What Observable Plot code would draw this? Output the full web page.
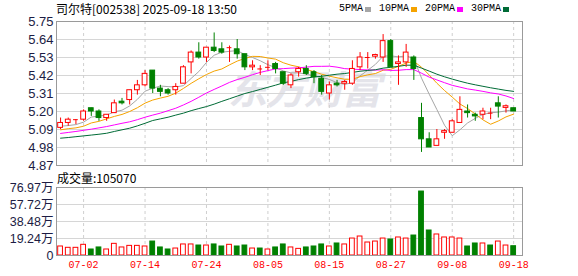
<!DOCTYPE html>
<html><head><meta charset="utf-8">
<script src="https://cdn.jsdelivr.net/npm/d3@7"></script>
<script src="https://cdn.jsdelivr.net/npm/@observablehq/plot@0.6"></script>
<style>
body{margin:0;background:#fff;}
#c{position:relative;width:578px;height:276px;overflow:hidden;font-family:"Noto Sans CJK SC",sans-serif;color:#000;}
#c svg{position:absolute;left:0;background:transparent;}
.t{position:absolute;white-space:nowrap;}
#wm{left:228px;top:64px;font-size:39px;line-height:46px;font-weight:bold;font-style:italic;color:#e4e4ea;letter-spacing:-1px;}
#title{left:56px;top:0px;font-size:12px;line-height:17px;}
#volt{left:57px;top:169px;font-size:12px;line-height:17px;}
#legend{left:339px;top:1px;display:flex;align-items:center;font-family:"Liberation Mono",monospace;font-size:10px;line-height:16px;}
#legend .sq{display:inline-block;width:6px;height:5px;margin-left:2px;margin-right:8px;}
</style></head>
<body><div id="c">
<div class="t" id="wm">东方财富</div>
<div class="t" id="title">司尔特[002538] 2025-09-18 13:50</div>
<div class="t" id="legend"></div>
<div class="t" id="volt">成交量:105070</div>
</div>
<script>
const dates = ["06-27","06-30","07-01","07-02","07-03","07-04","07-07","07-08","07-09","07-10",
"07-11","07-14","07-15","07-16","07-17","07-18","07-21","07-22","07-23","07-24",
"07-25","07-28","07-29","07-30","07-31","08-01","08-04","08-05","08-06","08-07",
"08-08","08-11","08-12","08-13","08-14","08-15","08-18","08-19","08-20","08-21",
"08-22","08-25","08-26","08-27","08-28","08-29","09-01","09-02","09-03","09-04",
"09-05","09-08","09-09","09-10","09-11","09-12","09-15","09-16","09-17","09-18"];

const open = [5.10,5.13,5.15,5.15,5.22,5.20,5.16,5.19,5.26,5.27,
5.33,5.36,5.45,5.34,5.33,5.33,5.37,5.50,5.56,5.53,
5.59,5.58,5.59,5.58,5.55,5.47,5.46,5.47,5.49,5.44,
5.36,5.44,5.46,5.44,5.40,5.31,5.37,5.37,5.37,5.47,
5.53,5.535,5.53,5.63,5.49,5.50,5.53,5.16,5.03,4.99,
5.07,5.07,5.13,5.20,5.18,5.18,5.19,5.25,5.222,5.22];
const high = [5.16,5.16,5.15,5.21,5.22,5.21,5.18,5.27,5.28,5.33,
5.39,5.45,5.45,5.36,5.34,5.37,5.48,5.57,5.62,5.59,
5.68,5.62,5.60,5.64,5.55,5.51,5.48,5.51,5.50,5.44,
5.43,5.47,5.48,5.45,5.42,5.38,5.39,5.39,5.51,5.56,
5.56,5.55,5.67,5.64,5.54,5.61,5.54,5.25,5.07,5.09,
5.09,5.15,5.29,5.24,5.19,5.22,5.22,5.29,5.24,5.22];
const low = [5.09,5.11,5.12,5.14,5.17,5.14,5.14,5.19,5.24,5.24,
5.30,5.35,5.31,5.29,5.30,5.30,5.37,5.43,5.52,5.50,
5.56,5.55,5.50,5.52,5.45,5.45,5.42,5.45,5.43,5.36,
5.34,5.41,5.42,5.37,5.30,5.27,5.35,5.33,5.36,5.45,
5.46,5.52,5.50,5.47,5.36,5.47,5.39,4.95,4.98,4.99,
5.03,5.07,5.13,5.16,5.14,5.15,5.15,5.16,5.19,5.20];
const close = [5.13,5.15,5.15,5.20,5.20,5.16,5.18,5.25,5.25,5.33,
5.36,5.43,5.34,5.32,5.31,5.35,5.47,5.56,5.53,5.59,
5.57,5.56,5.59,5.55,5.47,5.48,5.46,5.47,5.46,5.37,
5.42,5.46,5.43,5.41,5.32,5.36,5.36,5.38,5.46,5.53,
5.53,5.545,5.63,5.47,5.50,5.56,5.46,5.03,4.98,5.03,
5.08,5.14,5.21,5.19,5.17,5.20,5.19,5.23,5.232,5.20];

// volume in 万 (10k shares)
const volume = [10.2,8.7,8.7,12.1,6.8,9.1,6.8,13.2,9.1,10.9,
10.9,10.2,15.8,9.1,6.8,7.9,12.5,12.5,11.3,11.3,
12.5,10.2,12.1,10.2,11.3,7.9,7.9,6.8,9.1,12.5,
9.1,7.5,9.1,10.2,12.5,10.2,13.6,12.5,19.2,21.5,
14.7,15.8,19.2,18.1,20.4,19.2,22.6,72.4,28.3,23.8,
20.4,20.4,19.2,10.2,13.6,13.6,11.3,15.8,11.3,10.51];
const volDir = ["up","up","up","up","down","down","up","up","up","up",
"up","up","down","down","down","up","up","up","down","up",
"down","down","up","down","down","up","down","up","down","down",
"up","up","down","down","down","up","down","up","up","up",
"up","up","up","down","up","up","down","down","down","up",
"up","up","up","down","down","up","down","up","up","down"];

const ma5 = [5.11,5.114,5.12,5.135,5.166,5.172,5.178,5.198,5.208,5.234,
5.274,5.324,5.342,5.356,5.352,5.35,5.358,5.402,5.444,5.50,
5.544,5.562,5.568,5.572,5.548,5.53,5.51,5.486,5.468,5.448,
5.436,5.436,5.428,5.418,5.408,5.396,5.376,5.366,5.376,5.418,
5.452,5.488,5.538,5.54,5.534,5.54,5.524,5.404,5.306,5.212,
5.116,5.052,5.088,5.13,5.158,5.182,5.192,5.196,5.204,5.21];
const ma10 = [5.088,5.095,5.10,5.11,5.13,5.14,5.155,5.17,5.182,5.20,
5.223,5.251,5.27,5.282,5.293,5.312,5.341,5.372,5.40,5.426,
5.447,5.46,5.485,5.508,5.524,5.537,5.536,5.527,5.52,5.498,
5.483,5.473,5.457,5.443,5.428,5.416,5.406,5.397,5.397,5.413,
5.424,5.432,5.452,5.458,5.476,5.496,5.506,5.471,5.423,5.373,
5.328,5.288,5.246,5.218,5.185,5.149,5.122,5.142,5.167,5.184];
const ma20 = [5.066,5.072,5.078,5.085,5.092,5.10,5.108,5.118,5.128,5.137,
5.15,5.165,5.178,5.19,5.205,5.22,5.24,5.262,5.287,5.313,
5.335,5.356,5.378,5.395,5.409,5.425,5.439,5.45,5.46,5.462,
5.465,5.467,5.471,5.476,5.476,5.477,5.471,5.462,5.459,5.456,
5.454,5.453,5.455,5.451,5.452,5.456,5.456,5.434,5.41,5.393,
5.376,5.36,5.349,5.338,5.331,5.323,5.314,5.307,5.295,5.279];
const ma30 = [5.037,5.041,5.046,5.051,5.056,5.061,5.067,5.078,5.088,5.098,
5.112,5.128,5.145,5.155,5.165,5.178,5.19,5.205,5.218,5.23,
5.245,5.262,5.278,5.294,5.31,5.322,5.335,5.348,5.361,5.375,
5.384,5.395,5.404,5.411,5.415,5.422,5.428,5.432,5.439,5.446,
5.451,5.455,5.465,5.47,5.476,5.483,5.483,5.465,5.447,5.428,
5.412,5.398,5.385,5.373,5.363,5.354,5.345,5.337,5.329,5.323];

const priceTicks = [4.87,4.98,5.09,5.20,5.31,5.42,5.53,5.64,5.75];
const volTicks = [0,19.24,38.48,57.72,76.97];
const dateTickIdx = [3,11,19,27,35,43,51,59];
const maNames = ["5PMA","10PMA","20PMA","30PMA"];
const maColors = ["#a6a6a6","#f5a300","#ff00ff","#006b36"];

const RED = "#ff0000", GREEN = "#008000";
const HALF = 0.31;

const candles = dates.map((d, i) => ({i, date: d, open: open[i], high: high[i], low: low[i], close: close[i],
  up: close[i] >= open[i]}));
const vols = dates.map((d, i) => ({i, v: volume[i], up: volDir[i] === "up"}));
const maSeries = [ma5, ma10, ma20, ma30].map((vals, k) => ({name: maNames[k], color: maColors[k], vals}));

const xScale = {type: "linear", domain: [-0.53, 60.15], axis: null, label: null};
const gridH = "#d6d6d6", gridV = "#cfcfcf", frameC = "#9a9a9a";

const price = Plot.plot({
  width: 578, height: 170, marginLeft: 56, marginRight: 56, marginTop: 21, marginBottom: 5,
  style: {background: "transparent", overflow: "visible"},
  x: xScale,
  y: {domain: [4.87, 5.75], axis: null, label: null},
  color: {type: "identity"},
  marks: [
    Plot.ruleY(priceTicks, {stroke: gridH}),
    Plot.ruleX(dateTickIdx, {stroke: gridV, strokeDasharray: "3,3"}),
    Plot.axisY(priceTicks, {tickSize: 0, tickPadding: 3, tickFormat: d => d.toFixed(2), fontSize: 13, label: null,
      fill: "#1c1c44", fontFamily: "Liberation Sans, Arial, sans-serif"}),
    ...maSeries.map(s => Plot.line(s.vals, {x: (d, i) => i, y: d => d, stroke: s.color, strokeWidth: 1})),
    Plot.ruleX(candles, {x: "i", y1: "low", y2: "high", stroke: d => d.up ? RED : GREEN}),
    Plot.rect(candles.filter(d => d.open !== d.close), {x1: d => d.i - HALF, x2: d => d.i + HALF,
      y1: "open", y2: "close", fill: d => d.up ? "#ffffff" : GREEN, stroke: d => d.up ? RED : GREEN}),
    Plot.ruleY(candles.filter(d => d.open === d.close), {y: "close", x1: d => d.i - HALF, x2: d => d.i + HALF, stroke: RED}),
    Plot.frame({stroke: frameC})
  ]
});
price.style.top = "0px";

const volChart = Plot.plot({
  width: 578, height: 111, marginLeft: 56, marginRight: 56, marginTop: 22, marginBottom: 21,
  style: {background: "transparent", overflow: "visible"},
  x: xScale,
  y: {domain: [0, 76.97], axis: null, label: null},
  color: {type: "identity"},
  marks: [
    Plot.ruleY(volTicks, {stroke: gridH}),
    Plot.ruleX(dateTickIdx, {stroke: gridV, strokeDasharray: "3,3"}),
    Plot.axisY(volTicks, {tickSize: 0, tickPadding: 3, tickFormat: v => v === 0 ? "0" : v.toFixed(2) + "万", label: null,
      fontSize: 12.5, fill: "#1c1c44", fontFamily: "Liberation Sans, Noto Sans CJK SC, sans-serif"}),
    Plot.axisX(dateTickIdx, {tickSize: 0, tickPadding: 5, tickFormat: i => dates[i], fontSize: 10, label: null,
      fill: RED, fontFamily: "Liberation Mono, monospace"}),
    Plot.rect(vols, {x1: d => d.i - HALF, x2: d => d.i + HALF, y1: 0, y2: "v",
      fill: d => d.up ? "#ffffff" : GREEN, stroke: d => d.up ? RED : GREEN}),
    Plot.frame({stroke: frameC})
  ]
});
volChart.style.top = "165px";

const c = document.getElementById("c");
c.appendChild(price);
c.appendChild(volChart);

const legend = document.getElementById("legend");
maSeries.forEach(s => {
  const t = document.createElement("span"); t.textContent = s.name; legend.appendChild(t);
  const q = document.createElement("span"); q.className = "sq"; q.style.background = s.color; legend.appendChild(q);
});
</script>
</body></html>
